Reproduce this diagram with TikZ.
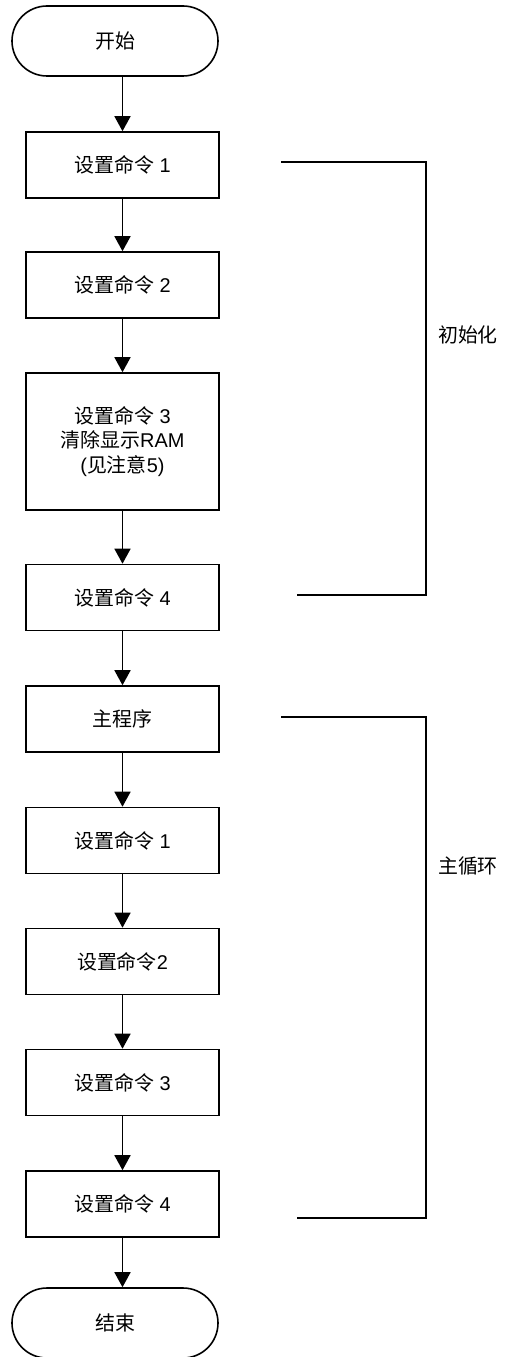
\documentclass[tikz,border=0pt]{standalone}
\usepackage{fontspec}
\setmainfont{Liberation Sans}
\newfontfamily\cjk{Noto Sans CJK SC}
\usetikzlibrary{arrows.meta,shapes.misc}

\begin{document}
\begin{tikzpicture}
[x=1bp, y=-1bp, font=\fontsize{20}{25}\selectfont, line width=1.6bp,
stepbox/.style={rectangle, draw, inner sep=0pt, minimum width=193bp, minimum height=66bp, align=center},
terminal/.style={rounded rectangle, draw, inner sep=0pt, minimum width=206bp, minimum height=70bp},
arr/.style={-{Triangle[width=16bp,length=15bp]}},
brace/.style={line cap=rect},
sidelabel/.style={font=\fontsize{20}{25}\selectfont\cjk}]

\useasboundingbox (0,0) rectangle (532,1357);

% flow column
\node[terminal] (start) at (115,41) {\cjk 开始};
\node[stepbox] (set1) at (122.5,165) {{\cjk 设置命令} 1};
\node[stepbox] (set2) at (122.5,285) {{\cjk 设置命令} 2};
\node[stepbox, minimum height=137bp] (set3) at (122.5,441.5)
  {{\cjk 设置命令} 3\\{\cjk 清除显示}RAM\\({\cjk 见注意}5)};
\node[stepbox] (set4) at (122.5,597.5) {{\cjk 设置命令} 4};
\node[stepbox] (mainprog) at (122.5,719) {\cjk 主程序};
\node[stepbox] (loop1) at (122.5,840.5) {{\cjk 设置命令} 1};
\node[stepbox] (loop2) at (122.5,961.5) {{\cjk 设置命令}2};
\node[stepbox] (loop3) at (122.5,1082.5) {{\cjk 设置命令} 3};
\node[stepbox] (loop4) at (122.5,1204) {{\cjk 设置命令} 4};
\node[terminal] (stop) at (115,1323) {\cjk 结束};

\draw[arr] (set1 |- start.south) -- (set1);
\draw[arr] (set1) -- (set2);
\draw[arr] (set2) -- (set3);
\draw[arr] (set3) -- (set4);
\draw[arr] (set4) -- (mainprog);
\draw[arr] (mainprog) -- (loop1);
\draw[arr] (loop1) -- (loop2);
\draw[arr] (loop2) -- (loop3);
\draw[arr] (loop3) -- (loop4);
\draw[arr] (loop4.south) -- (loop4.south |- stop.north);

% brackets
\coordinate (init0) at (282,162);
\coordinate (init1) at (298,595);
\coordinate (loop0) at (282,717);
\coordinate (loopz) at (298,1218);
\draw[brace] (init0) -- (426,162) -- (426,595) -- (init1);
\draw[brace] (loop0) -- (426,717) -- (426,1218) -- (loopz);

\node[sidelabel] (initlabel) at (468,335) {初始化};
\node[sidelabel] (looplabel) at (468,866) {主循环};
\end{tikzpicture}
\end{document}
